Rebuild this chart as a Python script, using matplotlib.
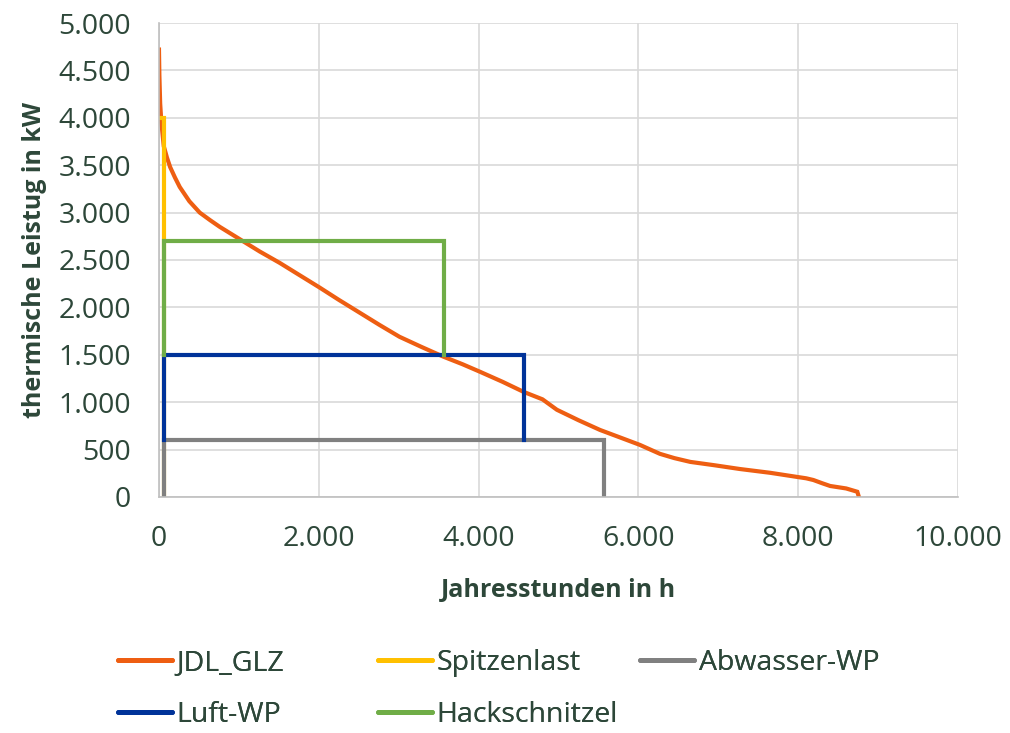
import matplotlib
matplotlib.use("Agg")
import matplotlib.pyplot as plt
from matplotlib.ticker import FuncFormatter, MultipleLocator
from matplotlib.lines import Line2D

# Jahresdauerlinie (load duration curve)
jdl_h = [0, 5, 15, 30, 60, 100, 140, 200, 260, 380, 510, 640, 760, 1010, 1260,
         1510, 1750, 2000, 2250, 2510, 2760, 3010, 3280, 3560, 3800, 4020, 4300,
         4560, 4800, 4980, 5250, 5520, 5780, 6020, 6150, 6270, 6450, 6650, 6950,
         7270, 7650, 7990, 8100, 8190, 8300, 8400, 8600, 8740, 8760]
jdl_kw = [4720, 4450, 4150, 3950, 3700, 3580, 3480, 3370, 3270, 3120, 3000, 2920,
          2850, 2720, 2590, 2470, 2345, 2215, 2080, 1945, 1815, 1690, 1585, 1480,
          1400, 1320, 1215, 1110, 1030, 920, 810, 707, 625, 549, 500, 455, 410,
          370, 335, 295, 255, 211, 197, 179, 145, 116, 90, 55, 0]

# generator blocks
spitze_h = [0, 60, 60]
spitze_kw = [4000, 4000, 0]
abwasser_h = [60, 60, 5570, 5570]
abwasser_kw = [0, 600, 600, 0]
luft_h = [60, 60, 4570, 4570]
luft_kw = [600, 1500, 1500, 600]
hack_h = [60, 60, 3570, 3570]
hack_kw = [1500, 2700, 2700, 1500]

labels = ["JDL_GLZ", "Spitzenlast", "Abwasser-WP", "Luft-WP", "Hackschnitzel"]
colors = ["#EE5E12", "#FFC000", "#808080", "#003399", "#70AD47"]

txt = "#2d4739"
plt.rcParams["font.family"] = ["Open Sans", "DejaVu Sans"]

fig = plt.figure(figsize=(10.1, 7.33), dpi=100)
ax = fig.add_axes([0.1574, 0.322, 0.7911, 0.6466])

series = [(jdl_h, jdl_kw), (spitze_h, spitze_kw), (abwasser_h, abwasser_kw),
          (luft_h, luft_kw), (hack_h, hack_kw)]
for (x, y), lab, c in zip(series, labels, colors):
    ax.plot(x, y, color=c, lw=3, label=lab, solid_joinstyle="miter")

ax.set_xlim(0, 10000)
ax.set_ylim(0, 5000)
ax.xaxis.set_major_locator(MultipleLocator(2000))
ax.yaxis.set_major_locator(MultipleLocator(500))
fmt = FuncFormatter(lambda v, p: f"{int(v):,}".replace(",", "."))
ax.xaxis.set_major_formatter(fmt)
ax.yaxis.set_major_formatter(fmt)
ax.tick_params(length=0, labelsize=20.5, labelcolor=txt, pad=20)
ax.grid(True, color="#d9d9d9", lw=1.2)
ax.set_axisbelow(True)
for s in ["top", "right"]:
    ax.spines[s].set_visible(False)
for s in ["left", "bottom"]:
    ax.spines[s].set_color("#bfbfbf")
    ax.spines[s].set_linewidth(1.2)

ax.set_xlabel("Jahresstunden in h", fontsize=18, fontweight="bold", color=txt, labelpad=18)
ax.set_ylabel("thermische Leistug in kW", fontsize=18, fontweight="bold", color=txt, labelpad=8)

# legend laid out like the Excel grid
legend_pos = [(0.117, 0.076), (0.374, 0.076), (0.634, 0.076),
              (0.117, 0.006), (0.374, 0.006)]
for lab, c, (lx, ly) in zip(labels, colors, legend_pos):
    h = Line2D([], [], color=c, lw=3.5, solid_capstyle="round")
    lg = fig.legend([h], [lab], loc="lower left", bbox_to_anchor=(lx, ly),
                    frameon=False, fontsize=20.5, handlelength=1.9,
                    handletextpad=0.15, borderpad=0, borderaxespad=0)
    for t in lg.get_texts():
        t.set_color(txt)
    fig.add_artist(lg)

fig.savefig("out.png", dpi=100)
